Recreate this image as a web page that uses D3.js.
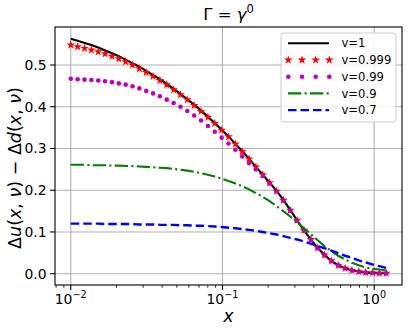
<!DOCTYPE html>
<html>
<head>
<meta charset="utf-8">
<script src="https://cdn.jsdelivr.net/npm/d3@7"></script>
<style>
  html, body { margin: 0; padding: 0; background: #fff; }
  svg { display: block; }
  text { font-family: "DejaVu Sans", sans-serif; fill: #000; }
</style>
</head>
<body>
<script>
// ---------- data ----------
const xValues = [0.01000, 0.01110, 0.01232, 0.01367, 0.01517, 0.01683, 0.01868, 0.02073, 0.02300, 0.02552,
  0.02831, 0.03142, 0.03486, 0.03868, 0.04292, 0.04764, 0.05286, 0.05865, 0.06508, 0.07222,
  0.08014, 0.08892, 0.09872, 0.1095, 0.1216, 0.1349, 0.1497, 0.1661, 0.1843, 0.2045,
  0.2270, 0.2519, 0.2795, 0.3101, 0.3441, 0.3819, 0.4237, 0.4702, 0.5218, 0.5790,
  0.6427, 0.7131, 0.7914, 0.8781, 0.9745, 1.081, 1.200];

const v1 = [0.563, 0.558, 0.553, 0.548, 0.542, 0.535, 0.528, 0.521, 0.513, 0.504,
  0.496, 0.486, 0.476, 0.466, 0.455, 0.443, 0.431, 0.418, 0.405, 0.391,
  0.376, 0.361, 0.345, 0.329, 0.311, 0.294, 0.275, 0.256, 0.237, 0.218,
  0.199, 0.177, 0.153, 0.128, 0.104, 0.082, 0.062, 0.045, 0.031, 0.020,
  0.013, 0.008, 0.005, 0.003, 0.002, 0.001, 0.001];

const v0999 = [0.548, 0.544, 0.540, 0.536, 0.532, 0.527, 0.521, 0.515, 0.508, 0.500,
  0.491, 0.482, 0.473, 0.463, 0.453, 0.441, 0.429, 0.417, 0.403, 0.389,
  0.375, 0.360, 0.344, 0.328, 0.311, 0.293, 0.275, 0.256, 0.237, 0.218,
  0.198, 0.176, 0.152, 0.128, 0.104, 0.082, 0.062, 0.045, 0.031, 0.020,
  0.013, 0.008, 0.005, 0.003, 0.002, 0.001, 0.001];

const v099 = [0.467, 0.466, 0.465, 0.464, 0.463, 0.461, 0.459, 0.456, 0.453, 0.449,
  0.444, 0.438, 0.432, 0.425, 0.417, 0.409, 0.400, 0.390, 0.379, 0.367,
  0.354, 0.340, 0.326, 0.312, 0.297, 0.281, 0.265, 0.250, 0.234, 0.216,
  0.197, 0.175, 0.151, 0.127, 0.103, 0.081, 0.061, 0.044, 0.030, 0.020,
  0.013, 0.008, 0.005, 0.003, 0.002, 0.001, 0.001];

const v09 = [0.261, 0.261, 0.261, 0.260, 0.260, 0.260, 0.259, 0.259, 0.258, 0.258,
  0.257, 0.256, 0.255, 0.254, 0.253, 0.251, 0.249, 0.247, 0.244, 0.241,
  0.237, 0.233, 0.228, 0.222, 0.216, 0.210, 0.202, 0.193, 0.184, 0.174,
  0.162, 0.150, 0.137, 0.123, 0.109, 0.095, 0.080, 0.066, 0.054, 0.043,
  0.034, 0.026, 0.020, 0.015, 0.012, 0.010, 0.008];

const v07 = [0.120, 0.120, 0.120, 0.120, 0.120, 0.119, 0.119, 0.119, 0.119, 0.119,
  0.118, 0.118, 0.118, 0.117, 0.117, 0.117, 0.116, 0.116, 0.115, 0.115,
  0.114, 0.113, 0.112, 0.110, 0.109, 0.107, 0.105, 0.103, 0.100, 0.097,
  0.094, 0.090, 0.086, 0.082, 0.077, 0.072, 0.066, 0.061, 0.055, 0.049,
  0.043, 0.038, 0.032, 0.027, 0.022, 0.018, 0.014];

const legendLabels = ["v=1", "v=0.999", "v=0.99", "v=0.9", "v=0.7"];
const xTicks = [0.01, 0.1, 1];
const xTickExponents = ["\u22122", "\u22121", "0"];
const yTicks = [0.0, 0.1, 0.2, 0.3, 0.4, 0.5];
const yTickLabels = ["0.0", "0.1", "0.2", "0.3", "0.4", "0.5"];

// ---------- layout ----------
const W = 409, H = 332;
const plot = { left: 55, right: 402, top: 27, bottom: 285 };

const svg = d3.select("body").append("svg").attr("width", W).attr("height", H);

// scales with matplotlib-like 5% margins
const lx = d3.extent(xValues).map(Math.log10);
const lpad = (lx[1] - lx[0]) * 0.05;
const x = d3.scaleLog()
  .domain([Math.pow(10, lx[0] - lpad), Math.pow(10, lx[1] + lpad)])
  .range([plot.left, plot.right]);

const allY = [].concat(v1, v0999, v099, v09, v07);
const ye = d3.extent(allY);
const ypad = (ye[1] - ye[0]) * 0.05;
const y = d3.scaleLinear()
  .domain([ye[0] - ypad, ye[1] + ypad])
  .range([plot.bottom, plot.top]);

// grid
const grid = svg.append("g");
xTicks.forEach(t => {
  grid.append("line").attr("x1", x(t)).attr("x2", x(t))
    .attr("y1", plot.top).attr("y2", plot.bottom)
    .attr("stroke", "#b0b0b0").attr("stroke-width", 1.1);
});
yTicks.forEach(t => {
  grid.append("line").attr("x1", plot.left).attr("x2", plot.right)
    .attr("y1", y(t)).attr("y2", y(t))
    .attr("stroke", "#b0b0b0").attr("stroke-width", 1.1);
});

// clip
svg.append("clipPath").attr("id", "clip").append("rect")
  .attr("x", plot.left).attr("y", plot.top)
  .attr("width", plot.right - plot.left).attr("height", plot.bottom - plot.top);
const g = svg.append("g").attr("clip-path", "url(#clip)");

const line = d3.line().x(d => x(d[0])).y(d => y(d[1]));
const pts = arr => xValues.map((xv, i) => [xv, arr[i]]);

// v=1 black solid
g.append("path").datum(pts(v1)).attr("d", line)
  .attr("fill", "none").attr("stroke", "#000").attr("stroke-width", 2.1);

// v=0.999 red stars
const star = d3.symbol().type(d3.symbolStar).size(24);
g.append("g").selectAll("path").data(pts(v0999)).join("path")
  .attr("d", star)
  .attr("transform", d => `translate(${x(d[0])},${y(d[1])})`)
  .attr("fill", "#ff0000");

// v=0.99 magenta dots
g.append("g").selectAll("circle").data(pts(v099)).join("circle")
  .attr("cx", d => x(d[0])).attr("cy", d => y(d[1])).attr("r", 2.3)
  .attr("fill", "#bf00bf");

// v=0.9 green dash-dot
g.append("path").datum(pts(v09)).attr("d", line)
  .attr("fill", "none").attr("stroke", "#008000").attr("stroke-width", 2.1)
  .attr("stroke-dasharray", "13.3,3.3,2.1,3.3");

// v=0.7 blue dashed
g.append("path").datum(pts(v07)).attr("d", line)
  .attr("fill", "none").attr("stroke", "#0000ff").attr("stroke-width", 2.4)
  .attr("stroke-dasharray", "8.5,4");

// axes frame
svg.append("rect").attr("x", plot.left).attr("y", plot.top)
  .attr("width", plot.right - plot.left).attr("height", plot.bottom - plot.top)
  .attr("fill", "none").attr("stroke", "#000").attr("stroke-width", 1.1);

// x axis ticks
const xAxis = svg.append("g");
const minorTicks = [];
for (let e = -3; e <= 0; e++) {
  for (let m = 2; m <= 9; m++) {
    const v = m * Math.pow(10, e);
    if (v >= x.domain()[0] && v <= x.domain()[1]) minorTicks.push(v);
  }
}
minorTicks.forEach(t => {
  xAxis.append("line").attr("x1", x(t)).attr("x2", x(t))
    .attr("y1", plot.bottom).attr("y2", plot.bottom + 2.8)
    .attr("stroke", "#000").attr("stroke-width", 0.8);
});
xTicks.forEach((t, i) => {
  xAxis.append("line").attr("x1", x(t)).attr("x2", x(t))
    .attr("y1", plot.bottom).attr("y2", plot.bottom + 4.9)
    .attr("stroke", "#000").attr("stroke-width", 1.1);
  const tx = xAxis.append("text").attr("x", x(t)).attr("y", 303.5)
    .attr("text-anchor", "middle").attr("font-size", 13.9);
  tx.append("tspan").text("10");
  tx.append("tspan").attr("dy", -6).attr("font-size", 9.7).text(xTickExponents[i]);
});

// y axis ticks
const yAxis = svg.append("g");
yTicks.forEach((t, i) => {
  yAxis.append("line").attr("x1", plot.left - 4.9).attr("x2", plot.left)
    .attr("y1", y(t)).attr("y2", y(t))
    .attr("stroke", "#000").attr("stroke-width", 1.1);
  yAxis.append("text").attr("x", plot.left - 8.4).attr("y", y(t))
    .attr("dy", "0.36em").attr("text-anchor", "end").attr("font-size", 13.9)
    .text(yTickLabels[i]);
});

// title  Γ = γ^0
const title = svg.append("text").attr("x", (plot.left + plot.right) / 2).attr("y", 19.5)
  .attr("text-anchor", "middle").attr("font-size", 16.5);
title.append("tspan").text("\u0393 = ");
title.append("tspan").attr("font-style", "italic").text("\u03b3");
title.append("tspan").attr("dy", -7).attr("font-size", 11.5).text("0");

// x label
svg.append("text").attr("x", (plot.left + plot.right) / 2).attr("y", 321.5)
  .attr("text-anchor", "middle").attr("font-size", 17.5)
  .attr("font-style", "italic").text("x");

// y label  Δu(x, ν) − Δd(x, ν)
const yl = svg.append("text")
  .attr("transform", `translate(21,168) rotate(-90)`)
  .attr("text-anchor", "middle").attr("font-size", 17.5);
const it = s => yl.append("tspan").attr("font-style", "italic").text(s);
const up = s => yl.append("tspan").text(s);
up("\u0394"); it("u"); up("("); it("x"); up(", "); it("\u03bd"); up(") \u2212 \u0394");
it("d"); up("("); it("x"); up(", "); it("\u03bd"); up(")");

// legend
const lg = svg.append("g");
lg.append("rect").attr("x", 281).attr("y", 33).attr("width", 115).attr("height", 89)
  .attr("rx", 3).attr("fill", "#fff").attr("fill-opacity", 0.8)
  .attr("stroke", "#cccccc").attr("stroke-width", 1);
const rowY = i => 43.3 + i * 16.7;
const hx0 = 288, hx1 = 329;
const handleXs = [288.3, 302, 315.7, 329.3];
legendLabels.forEach((lab, i) => {
  const cy = rowY(i);
  if (i === 0) {
    lg.append("line").attr("x1", hx0).attr("x2", hx1).attr("y1", cy).attr("y2", cy)
      .attr("stroke", "#000").attr("stroke-width", 2.1);
  } else if (i === 1) {
    handleXs.forEach(hx => lg.append("path").attr("d", star)
      .attr("transform", `translate(${hx},${cy})`).attr("fill", "#ff0000"));
  } else if (i === 2) {
    handleXs.forEach(hx => lg.append("circle").attr("cx", hx).attr("cy", cy).attr("r", 2.3)
      .attr("fill", "#bf00bf"));
  } else if (i === 3) {
    lg.append("line").attr("x1", hx0).attr("x2", hx1).attr("y1", cy).attr("y2", cy)
      .attr("stroke", "#008000").attr("stroke-width", 2.1)
      .attr("stroke-dasharray", "13.3,3.3,2.1,3.3");
  } else {
    lg.append("line").attr("x1", hx0).attr("x2", hx1).attr("y1", cy).attr("y2", cy)
      .attr("stroke", "#0000ff").attr("stroke-width", 2.4)
      .attr("stroke-dasharray", "8.5,4");
  }
  lg.append("text").attr("x", 341.5).attr("y", cy).attr("dy", "0.36em")
    .attr("font-size", 11.6).text(lab);
});
</script>
</body>
</html>
